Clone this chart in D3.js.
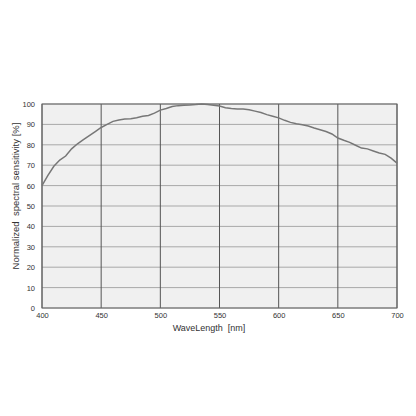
<!DOCTYPE html>
<html>
<head>
<meta charset="utf-8">
<script src="https://cdn.jsdelivr.net/npm/d3@7"></script>
<style>
  html, body { margin: 0; padding: 0; background: #fff; }
  svg { display: block; font-family: "Liberation Sans", Arial, sans-serif; }
</style>
</head>
<body>
<svg width="416" height="416"></svg>
<script>
// curve
var longitudes = [400,405,410,415,420,425,430,435,440,445,450,455,460,465,470,475,480,485,490,495,
  500,505,510,515,520,525,530,535,540,545,550,555,560,565,570,575,580,585,590,595,
  600,605,610,615,620,625,630,635,640,645,650,655,660,665,670,675,680,685,690,695,700];
var sensibilidad = [60,65,69.5,72.5,74.5,78,80.5,82.5,84.5,86.5,88.5,90,91.5,92.2,92.6,92.8,93.3,94,94.4,95.5,
  97,97.8,98.8,99.2,99.4,99.5,99.7,100,99.8,99.4,99,98.2,97.8,97.6,97.5,97.2,96.5,95.8,94.8,94,
  93.2,92,91,90.3,89.8,89.2,88.2,87.4,86.5,85.3,83.3,82.2,81.2,79.8,78.4,78,77,76,75.3,73.5,71];
var ticksX = [400,450,500,550,600,650,700];
var ticksY = [0,10,20,30,40,50,60,70,80,90,100];

var svg = d3.select("svg");
var x0 = 42, x1 = 397, y0 = 308, y1 = 104;

var xScale = d3.scaleLinear().domain([400, 700]).range([x0, x1]);
var yScale = d3.scaleLinear().domain([0, 100]).range([y0, y1]);

// fondo
svg.append("rect")
  .attr("x", x0).attr("y", y1)
  .attr("width", x1 - x0).attr("height", y0 - y1)
  .attr("fill", "#f0f0f0");

// horizontal grid (light)
svg.append("g")
  .selectAll("line")
  .data(ticksY)
  .enter().append("line")
  .attr("x1", x0).attr("x2", x1)
  .attr("y1", function (d) { return yScale(d); })
  .attr("y2", function (d) { return yScale(d); })
  .attr("stroke", "#a8a8a8").attr("stroke-width", 1);

// vertical grid (dark)
svg.append("g")
  .selectAll("line")
  .data(ticksX)
  .enter().append("line")
  .attr("y1", y1).attr("y2", y0)
  .attr("x1", function (d) { return xScale(d); })
  .attr("x2", function (d) { return xScale(d); })
  .attr("stroke", "#555").attr("stroke-width", 1);

// borde
svg.append("rect")
  .attr("x", x0).attr("y", y1)
  .attr("width", x1 - x0).attr("height", y0 - y1)
  .attr("fill", "none").attr("stroke", "#666").attr("stroke-width", 1);

// axes, only the labels
var ejeX = svg.append("g")
  .attr("transform", "translate(0," + y0 + ")")
  .call(d3.axisBottom(xScale).tickValues(ticksX).tickSize(0).tickPadding(5));
var ejeY = svg.append("g")
  .attr("transform", "translate(" + x0 + ",0)")
  .call(d3.axisLeft(yScale).tickValues(ticksY).tickSize(0).tickPadding(7));
[ejeX, ejeY].forEach(function (g) {
  g.select(".domain").remove();
  g.selectAll("text").attr("font-size", 7.5).attr("fill", "#333")
    .attr("font-family", "\"Liberation Sans\", Arial, sans-serif");
});

// curve
var linea = d3.line()
  .x(function (d, i) { return xScale(longitudes[i]); })
  .y(function (d) { return yScale(d); });
svg.append("path")
  .datum(sensibilidad)
  .attr("d", linea)
  .attr("fill", "none")
  .attr("stroke", "#777")
  .attr("stroke-width", 1.5);

// axis titles
svg.append("text")
  .attr("x", 209).attr("y", 331)
  .attr("text-anchor", "middle")
  .attr("font-size", 9).attr("fill", "#333")
  .text("WaveLength  [nm]").style("white-space", "pre");

svg.append("text")
  .attr("transform", "translate(19,196) rotate(-90)")
  .attr("text-anchor", "middle")
  .attr("font-size", 9.5).attr("fill", "#333")
  .text("Normalized  spectral sensitivity [%]").style("white-space", "pre");
</script>
</body>
</html>
